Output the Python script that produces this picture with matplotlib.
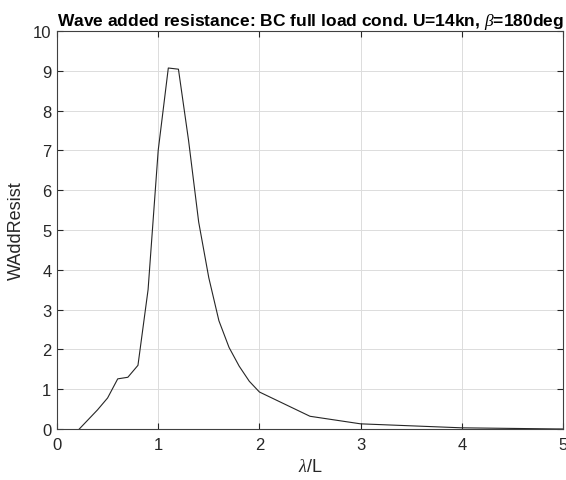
import matplotlib.pyplot as plt

plt.rcParams["font.family"] = ["Liberation Sans", "DejaVu Sans"]
plt.rcParams["mathtext.fontset"] = "custom"
plt.rcParams["mathtext.it"] = "Liberation Serif:italic"

wave_len = [0.22, 0.4, 0.5, 0.6, 0.7, 0.8, 0.9, 1.0, 1.1, 1.2, 1.3, 1.4, 1.5,
            1.6, 1.7, 1.8, 1.9, 2.0, 2.5, 3.0, 4.0, 5.0]
add_resist = [0.0, 0.48, 0.78, 1.26, 1.3, 1.6, 3.5, 7.0, 9.07, 9.04, 7.25, 5.2,
              3.8, 2.72, 2.05, 1.58, 1.2, 0.93, 0.32, 0.13, 0.03, 0.0]

fig = plt.figure(figsize=(5.66, 4.81), dpi=100)
ax = fig.add_axes([0.1007, 0.106, 0.894, 0.8275])
ax.plot(wave_len, add_resist, color="#262626", linewidth=0.8)

ax.set_xlim(0, 5)
ax.set_ylim(0, 10)
ax.set_xticks(range(0, 6))
ax.set_yticks(range(0, 11))
ax.grid(True, color="#dcdcdc", linewidth=0.7)
ax.set_axisbelow(True)
ax.tick_params(direction="in", length=4, labelsize=12, colors="#262626",
               top=True, right=True, labeltop=False, labelright=False)
ax.tick_params(axis="x", pad=6)
ax.tick_params(axis="y", pad=4)
for sp in ax.spines.values():
    sp.set_color("#404040")
    sp.set_linewidth(0.8)

ax.set_xlabel(r"$\lambda$/L", fontsize=13, color="#262626", labelpad=4)
ax.set_ylabel("WAddResist", fontsize=13, color="#262626", labelpad=6)
ax.set_title(r"Wave added resistance: BC full load cond. U=14kn, $\beta$=180deg",
             fontsize=12.5, fontweight="bold", pad=4)

fig.savefig("out.png", dpi=100)
